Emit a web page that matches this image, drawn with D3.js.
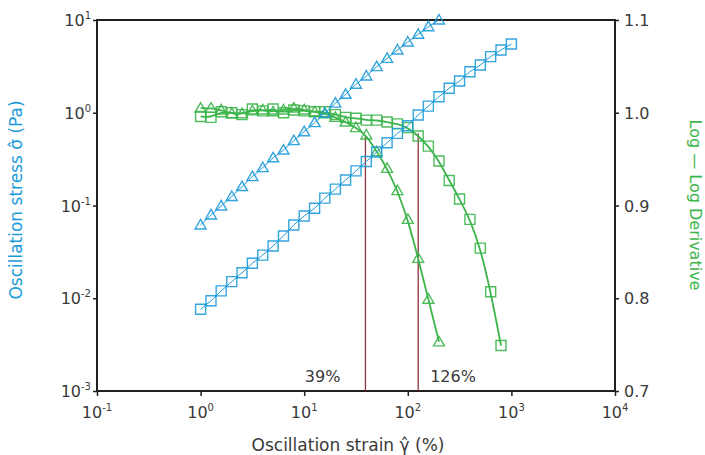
<!DOCTYPE html>
<html>
<head>
<meta charset="utf-8">
<script src="https://cdn.jsdelivr.net/npm/d3@7"></script>
<style>
body { margin: 0; background: #fff; }
text { font-family: "DejaVu Sans", "Noto Sans", sans-serif; }
</style>
</head>
<body>
<script>
// strain (%) for the two samples, 10 points per decade
var strainTri = [1, 1.26, 1.58, 2, 2.51, 3.16, 3.98, 5.01, 6.31, 7.94, 10, 12.6, 15.8, 20, 25.1, 31.6, 39.8, 50.1, 63.1, 79.4, 100, 126, 158, 200];
var strainSq = [1, 1.26, 1.58, 2, 2.51, 3.16, 3.98, 5.01, 6.31, 7.94, 10, 12.6, 15.8, 20, 25.1, 31.6, 39.8, 50.1, 63.1, 79.4, 100, 126, 158, 200, 251, 316, 398, 501, 631, 794, 1000];

// oscillation stress (Pa), left axis
var stressTri = [0.0617, 0.0791, 0.0989, 0.125, 0.160, 0.205, 0.256, 0.327, 0.396, 0.500, 0.625, 0.782, 0.986, 1.27, 1.58, 2.03, 2.49, 3.14, 3.86, 4.75, 5.79, 7.01, 8.47, 10.0];
var stressSq = [0.0076, 0.0094, 0.0120, 0.0151, 0.0188, 0.0238, 0.0292, 0.0366, 0.0469, 0.0617, 0.0771, 0.0933, 0.120, 0.150, 0.188, 0.236, 0.298, 0.378, 0.475, 0.600, 0.724, 0.946, 1.18, 1.49, 1.84, 2.20, 2.77, 3.27, 4.03, 4.75, 5.51];

// log-log derivative, right axis
var derivTri = [1.005, 1.005, 1.003, 0.999, 0.999, 1.002, 1.003, 1.001, 1.003, 1.005, 1.003, 1.001, 0.999, 0.995, 0.990, 0.984, 0.976, 0.958, 0.940, 0.916, 0.885, 0.843, 0.799, 0.753];
var derivSq = [0.996, 0.995, 1.001, 1.000, 0.998, 1.004, 1.002, 1.004, 1.000, 1.003, 1.002, 1.001, 1.001, 0.998, 0.995, 0.994, 0.992, 0.992, 0.990, 0.988, 0.984, 0.975, 0.964, 0.948, 0.927, 0.907, 0.885, 0.854, 0.807, 0.749];

// critical strains marked on the chart
var critStrain = [39, 126];
var critDeriv = [0.975, 0.978];
var critLabel = ["39%", "126%"];

var xTicks = [0.1, 1, 10, 100, 1000, 10000];
var yTicks = [0.001, 0.01, 0.1, 1, 10];
var rTicks = [0.7, 0.8, 0.9, 1.0, 1.1];

var width = 705;
var height = 455;
var plotLeft = 97, plotRight = 615, plotTop = 20, plotBottom = 391;

var blue = "#1d9bd8";
var green = "#3cb54a";
var axisColor = "#231f20";
var textColor = "#3a3a3a";

var canvas = d3.select("body")
    .append("svg")
    .attr("width", width)
    .attr("height", height);

var x = d3.scaleLog().domain([0.1, 10000]).range([plotLeft, plotRight]);
var y = d3.scaleLog().domain([0.001, 10]).range([plotBottom, plotTop]);
var yr = d3.scaleLinear().domain([0.7, 1.1]).range([plotBottom, plotTop]);

function exponent(v) {
    return Math.round(Math.log10(v));
}

// axes
var xAxis = canvas.append("g")
    .attr("transform", "translate(0," + plotBottom + ")")
    .call(d3.axisBottom(x).tickValues(xTicks).tickSize(5).tickFormat(""));
var yAxis = canvas.append("g")
    .attr("transform", "translate(" + plotLeft + ",0)")
    .call(d3.axisLeft(y).tickValues(yTicks).tickSize(4).tickFormat(""));
var rAxis = canvas.append("g")
    .attr("transform", "translate(" + plotRight + ",0)")
    .call(d3.axisRight(yr).tickValues(rTicks).tickSize(4).tickFormat(""));
[xAxis, yAxis, rAxis].forEach(function(g) {
    g.selectAll("path.domain").remove();
    g.selectAll(".tick line").attr("stroke", axisColor).attr("stroke-width", 1.5);
});

// frame
canvas.append("rect")
    .attr("x", plotLeft)
    .attr("y", plotTop)
    .attr("width", plotRight - plotLeft)
    .attr("height", plotBottom - plotTop)
    .attr("fill", "none")
    .attr("stroke", axisColor)
    .attr("stroke-width", 2);

// tick labels
xTicks.forEach(function(v) {
    var t = canvas.append("text")
        .attr("x", x(v))
        .attr("y", 418)
        .attr("text-anchor", "middle")
        .attr("font-size", 16)
        .attr("fill", textColor)
        .text("10");
    t.append("tspan").attr("dy", -7).attr("font-size", 10).text(exponent(v));
});
yTicks.forEach(function(v) {
    var t = canvas.append("text")
        .attr("x", plotLeft - 6)
        .attr("y", y(v) + 6)
        .attr("text-anchor", "end")
        .attr("font-size", 16)
        .attr("fill", textColor)
        .text("10");
    t.append("tspan").attr("dy", -7).attr("font-size", 10).text(exponent(v));
});
rTicks.forEach(function(v) {
    canvas.append("text")
        .attr("x", plotRight + 9)
        .attr("y", yr(v) + 6)
        .attr("font-size", 16)
        .attr("fill", textColor)
        .text(v.toFixed(1));
});

// axis titles
canvas.append("text")
    .attr("transform", "translate(22,200) rotate(-90)")
    .attr("text-anchor", "middle")
    .attr("font-size", 17)
    .attr("fill", blue)
    .text("Oscillation stress \u03C3\u0302 (Pa)");
canvas.append("text")
    .attr("transform", "translate(690,205) rotate(90)")
    .attr("text-anchor", "middle")
    .attr("font-size", 16)
    .attr("fill", green)
    .text("Log \u2014 Log Derivative");
canvas.append("text")
    .attr("x", 348)
    .attr("y", 451)
    .attr("text-anchor", "middle")
    .attr("font-size", 17)
    .attr("fill", textColor)
    .text("Oscillation strain \u03B3\u0302 (%)");

// critical strain markers
critStrain.forEach(function(s, i) {
    canvas.append("line")
        .attr("x1", x(s)).attr("x2", x(s))
        .attr("y1", plotBottom).attr("y2", yr(critDeriv[i]))
        .attr("stroke", "#8e3441")
        .attr("stroke-width", 1.3);
});
canvas.append("text")
    .attr("x", x(critStrain[0]) - 25)
    .attr("y", 382)
    .attr("text-anchor", "end")
    .attr("font-size", 16)
    .attr("fill", textColor)
    .text(critLabel[0]);
canvas.append("text")
    .attr("x", x(critStrain[1]) + 12)
    .attr("y", 382)
    .attr("font-size", 16)
    .attr("fill", textColor)
    .text(critLabel[1]);

var triPath = "M0,-5.5L5.5,4L-5.5,4Z";
var sqPath = "M-5,-5H5V5H-5Z";

function series(xs, ys, yScale, color, path, lineWidth, curve) {
    var pts = xs.slice(0, ys.length).map(function(s, i) { return [x(s), yScale(ys[i])]; });
    canvas.append("path")
        .attr("d", d3.line().curve(curve)(pts))
        .attr("fill", "none")
        .attr("stroke", color)
        .attr("stroke-width", lineWidth);
    canvas.selectAll(null)
        .data(pts)
        .enter()
        .append("path")
        .attr("d", path)
        .attr("transform", function(p) { return "translate(" + p[0] + "," + p[1] + ")"; })
        .attr("fill", "none")
        .attr("stroke", color)
        .attr("stroke-opacity", 0.9)
        .attr("stroke-width", 1.4);
}

series(strainSq, derivSq, yr, green, sqPath, 1.8, d3.curveBasis);
series(strainTri, derivTri, yr, green, triPath, 1.8, d3.curveBasis);
series(strainSq, stressSq, y, blue, sqPath, 1, d3.curveLinear);
series(strainTri, stressTri, y, blue, triPath, 1, d3.curveLinear);
</script>
</body>
</html>
